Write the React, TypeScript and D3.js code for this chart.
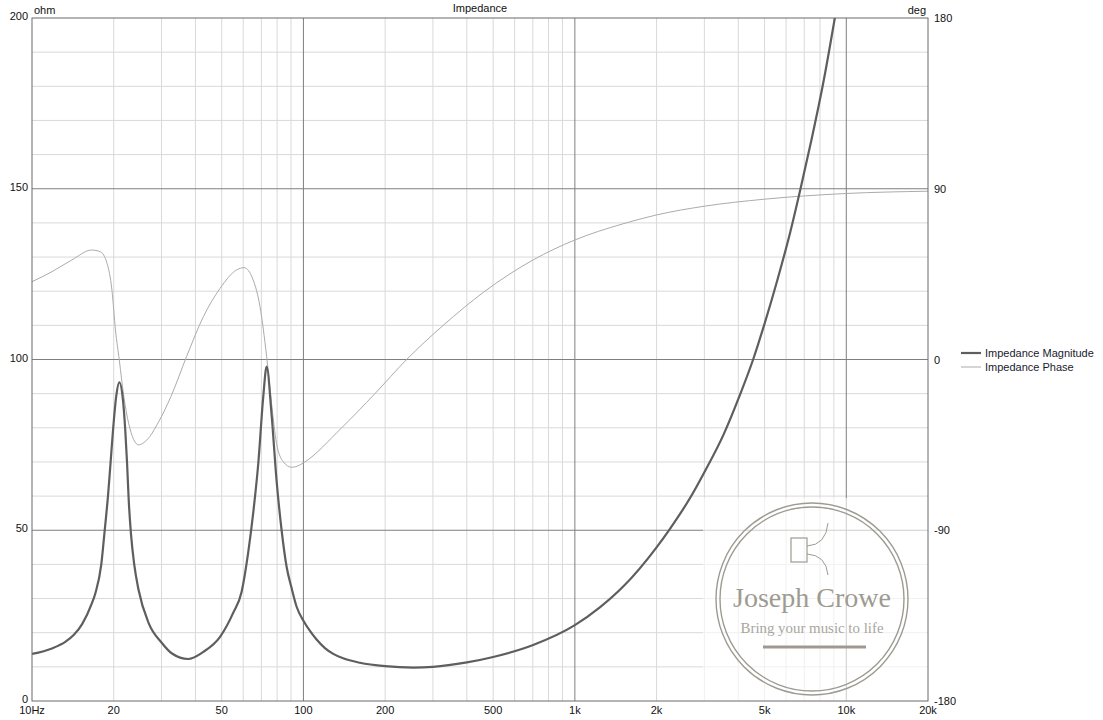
import React from "react";
import * as d3 from "d3";

const magFreq = [10, 11.85, 13.26, 14.24, 15.3, 16.6, 17.11, 18.0, 18.53, 19.05, 19.44, 19.87, 20.45, 20.97, 21.64, 22.07, 22.39, 22.71, 23.15, 23.8, 24.7, 26.9, 30.1, 32.8, 37.6, 42.8, 49.3, 55.1, 59.2, 62.6, 65.3, 68.2, 71.1, 73.2, 76.3, 79.6, 83.1, 86.7, 90.5, 94.4, 100, 105.7, 111.8, 120, 128.8, 140, 161.5, 200, 254, 300, 400, 500, 702, 1000, 1236, 1507, 2000, 2244, 2660, 3000, 3530, 4073, 4537, 5000, 5560, 6225, 6782, 7380, 8270, 9073, 9300];
const magOhm = [13.8, 15.4, 17.3, 19.3, 22.5, 28.5, 31.5, 40, 50, 60, 69, 79, 89.5, 93.3, 88, 79, 70, 59, 49, 40, 32.5, 22.8, 17, 13.9, 12.3, 14.4, 18.8, 25.8, 32, 43.5, 55, 69.7, 89, 97.9, 84, 64.7, 50, 39.3, 33, 27.6, 23.5, 20.5, 18, 15.5, 13.8, 12.5, 11.2, 10.2, 9.8, 10.0, 11.3, 12.9, 16.4, 22.2, 27.4, 33.5, 45, 50.5, 59.5, 67, 78, 90, 100, 110.5, 123, 137.5, 150, 163, 182, 200, 205];

const phaseFreq = [10, 11.85, 14.03, 16.6, 17.85, 18.9, 19.7, 20.3, 20.97, 21.8, 22.7, 24.7, 26.5, 29.3, 32.5, 37.1, 42.8, 49.3, 56.7, 60.4, 65.3, 69.2, 73.2, 76.3, 79.6, 84.3, 90.5, 97, 100, 138.3, 183.4, 240, 327.3, 466.2, 702, 1000, 1502, 2000, 3000, 5000, 10000, 20000];
const phaseDeg = [41, 46.3, 52.5, 57.7, 56.8, 50.7, 36.6, 15.6, -0.3, -19.6, -33.6, -45, -42.4, -32.8, -19.5, 1.5, 22.6, 37.5, 47.2, 48.4, 41.9, 27.8, 1.5, -23.1, -44.2, -53.9, -56.8, -55.6, -54.5, -36, -18, 0, 18, 36, 52.5, 63, 71.5, 76.2, 80.8, 84.5, 87.5, 88.7];

const xTickValues = [10, 20, 50, 100, 200, 500, 1000, 2000, 5000, 10000, 20000];
const xTickLabels = ["10Hz", "20", "50", "100", "200", "500", "1k", "2k", "5k", "10k", "20k"];
const leftTicks = [0, 50, 100, 150, 200];
const rightTicks = [-180, -90, 0, 90, 180];
const legendLabels = ["Impedance Magnitude", "Impedance Phase"];

const L = 32, R = 928, T = 18, B = 701;
const FONT = "'Liberation Sans', Arial, sans-serif";

export default function App() {
  const x = d3.scaleLog().domain([10, 20000]).range([L, R]);
  const yL = d3.scaleLinear().domain([0, 200]).range([B, T]);
  const yR = d3.scaleLinear().domain([-180, 180]).range([B, T]);

  const minorX: number[] = [];
  [10, 100, 1000, 10000].forEach((dec) => {
    for (let k = 2; k <= 9; k++) {
      const f = dec * k;
      if (f < 20000) minorX.push(f);
    }
  });
  const majorX = [100, 1000, 10000];
  const minorY = d3.range(10, 200, 10).filter((v) => v % 50 !== 0);
  const majorY = [50, 100, 150];

  const magLine = d3
    .line<number>()
    .x((_, i) => x(magFreq[i]))
    .y((d) => yL(d))
    .curve(d3.curveMonotoneX)(magOhm) as string;
  const phaseLine = d3
    .line<number>()
    .x((_, i) => x(phaseFreq[i]))
    .y((d) => yR(d))
    .curve(d3.curveMonotoneX)(phaseDeg) as string;

  const logoC = "#9d9b91";

  return (
    <svg width={1103} height={720} style={{ position: "absolute", left: 0, top: 0, background: "#fff" }}>
      <defs>
        <clipPath id="plot">
          <rect x={L} y={T} width={R - L} height={B - T} />
        </clipPath>
      </defs>
      <rect x={0} y={0} width={1103} height={720} fill="#fff" />
      {minorY.map((v) => (
        <line key={"my" + v} x1={L} x2={R} y1={yL(v)} y2={yL(v)} stroke="#d9d9d9" strokeWidth={1} />
      ))}
      {minorX.map((f) => (
        <line key={"mx" + f} x1={x(f)} x2={x(f)} y1={T} y2={B} stroke="#d9d9d9" strokeWidth={1} />
      ))}
      {majorY.map((v) => (
        <line key={"My" + v} x1={L} x2={R} y1={yL(v)} y2={yL(v)} stroke="#7f7f7f" strokeWidth={1} />
      ))}
      {majorX.map((f) => (
        <line key={"Mx" + f} x1={x(f)} x2={x(f)} y1={T} y2={B} stroke="#7f7f7f" strokeWidth={1} />
      ))}

      <rect x={703} y={498} width={R - 703} height={B - 498} fill="#fff" opacity={0.62} />

      <g clipPath="url(#plot)">
        <path d={phaseLine} fill="none" stroke="#ababab" strokeWidth={1} />
        <path d={magLine} fill="none" stroke="#5e5e5e" strokeWidth={2.2} />
      </g>

      <g>
        <circle cx={812} cy={599} r={96} fill="none" stroke={logoC} strokeWidth={1.4} />
        <circle cx={812} cy={599} r={92} fill="none" stroke={logoC} strokeWidth={1.4} />
        <rect x={791} y={538} width={16} height={24} fill="none" stroke={logoC} strokeWidth={1.2} />
        <path d="M807,546 Q826,545 828,523" fill="none" stroke={logoC} strokeWidth={1} />
        <path d="M807,554 Q826,555 828,575" fill="none" stroke={logoC} strokeWidth={1} />
        <text x={812} y={607} textAnchor="middle" fontFamily="'Liberation Serif', 'DejaVu Serif', serif" fontSize={27} fill={logoC} textLength={158} lengthAdjust="spacingAndGlyphs">Joseph Crowe</text>
        <text x={812} y={633} textAnchor="middle" fontFamily="'Liberation Serif', 'DejaVu Serif', serif" fontSize={15} fill="#a8a69d" textLength={143} lengthAdjust="spacingAndGlyphs">Bring your music to life</text>
        <line x1={763} x2={866} y1={647} y2={647} stroke={logoC} strokeWidth={3} />
      </g>

      <rect x={L} y={T} width={R - L} height={B - T} fill="none" stroke="#6b6b6b" strokeWidth={1} />

      {xTickValues.map((f, i) => (
        <text key={"xt" + f} x={x(f)} y={714} textAnchor="middle" fontFamily={FONT} fontSize={11} fill="#111">
          {xTickLabels[i]}
        </text>
      ))}
      {leftTicks.map((v) => (
        <text key={"lt" + v} x={28} y={yL(v) + 2} textAnchor="end" fontFamily={FONT} fontSize={11} fill="#111">
          {v}
        </text>
      ))}
      {rightTicks.map((v) => (
        <text key={"rt" + v} x={934} y={yR(v) + 4} textAnchor="start" fontFamily={FONT} fontSize={11} fill="#111">
          {v}
        </text>
      ))}
      <text x={34} y={14} fontFamily={FONT} fontSize={11} fill="#111">ohm</text>
      <text x={926} y={14} textAnchor="end" fontFamily={FONT} fontSize={11} fill="#111">deg</text>
      <text x={(L + R) / 2} y={12} textAnchor="middle" fontFamily={FONT} fontSize={11} fill="#111">Impedance</text>

      <line x1={961} x2={981} y1={353} y2={353} stroke="#5e5e5e" strokeWidth={2.2} />
      <line x1={961} x2={981} y1={367} y2={367} stroke="#ababab" strokeWidth={1} />
      <text x={985} y={357} fontFamily={FONT} fontSize={11} fill="#1a1a2e">{legendLabels[0]}</text>
      <text x={985} y={371} fontFamily={FONT} fontSize={11} fill="#1a1a2e">{legendLabels[1]}</text>
    </svg>
  );
}
